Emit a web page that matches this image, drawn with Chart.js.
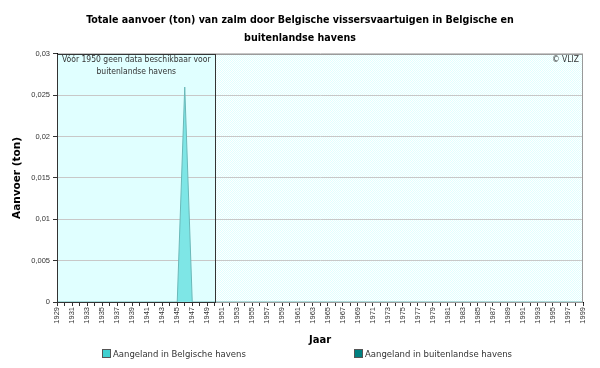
<!DOCTYPE html>
<html>
<head>
<meta charset="utf-8">
<script src="https://cdn.jsdelivr.net/npm/chart.js@4"></script>
<style>
  body { margin: 0; background: #fff; }
  #wrap { position: relative; width: 600px; height: 368px; }
  .leg { position: absolute; top: 349px; font: 8.5px "DejaVu Sans", sans-serif; color: #333; white-space: nowrap; }
  .leg span { display: inline-block; width: 7px; height: 7px; border: 1px solid #555; margin-right: 2px; vertical-align: -1px; }
</style>
</head>
<body>
<div id="wrap">
  <canvas id="MyChart" width="600" height="368"></canvas>
  <div class="leg" style="left:102px"><span style="background:#40D0D0"></span>Aangeland in Belgische havens</div>
  <div class="leg" style="left:354px"><span style="background:#008080"></span>Aangeland in buitenlandse havens</div>
</div>
<script>
// years 1929 - 1999
let years = [];
for (let y = 1929; y <= 1999; y++) years.push(String(y));

// only 1946 has a landing (Belgian ports), rest is zero
let belgisch = years.map((y) => (y === '1946' ? 0.026 : 0));
let buitenlands = years.map(() => 0);

let yTicks = [0, 0.005, 0.01, 0.015, 0.02, 0.025, 0.03];
let noDataUntil = '1950';

// checkerboard like the original dither
function ditherPattern(ctx) {
  let c = document.createElement('canvas');
  c.width = 2; c.height = 2;
  let p = c.getContext('2d');
  p.fillStyle = '#ffffff';
  p.fillRect(0, 0, 2, 2);
  p.fillStyle = '#E0FFFF';
  p.fillRect(0, 0, 1, 1);
  p.fillRect(1, 1, 1, 1);
  return ctx.createPattern(c, 'repeat');
}

const backgroundBox = {
  id: 'backgroundBox',
  beforeDraw(chart) {
    const {ctx, chartArea: a, scales: {x}} = chart;
    ctx.save();
    ctx.fillStyle = ditherPattern(ctx);
    ctx.fillRect(a.left, a.top, a.right - a.left, a.bottom - a.top);
    let xb = Math.round(x.getPixelForValue(years.indexOf(noDataUntil))) + 0.5;
    ctx.fillStyle = '#E0FFFF';
    ctx.fillRect(a.left, a.top, xb - a.left, a.bottom - a.top);
    ctx.restore();
  },
  afterDatasetsDraw(chart) {
    const {ctx, chartArea: a, scales: {x}} = chart;
    let xb = Math.round(x.getPixelForValue(years.indexOf(noDataUntil))) + 0.5;
    ctx.save();
    ctx.strokeStyle = '#999';
    ctx.lineWidth = 1;
    ctx.strokeRect(a.left + 0.5, a.top + 0.5, a.right - a.left - 1, a.bottom - a.top);
    ctx.strokeStyle = '#333';
    ctx.strokeRect(a.left + 0.5, a.top + 0.5, xb - a.left - 0.5, a.bottom - a.top);
    ctx.fillStyle = '#333';
    ctx.font = '8.5px "DejaVu Sans Condensed", "DejaVu Sans", sans-serif';
    ctx.textAlign = 'center';
    ctx.textBaseline = 'middle';
    let cx = (a.left + xb) / 2;
    ctx.fillText('Vóór 1950 geen data beschikbaar voor', cx, a.top + 6);
    ctx.fillText('buitenlandse havens', cx, a.top + 18);
    ctx.textAlign = 'right';
    ctx.fillText('© VLIZ', a.right - 4, a.top + 6);
    ctx.restore();
  }
};

var ctx = document.getElementById('MyChart').getContext('2d');
new Chart(ctx, {
  type: 'line',
  data: {
    labels: years,
    datasets: [
      {
        label: 'Aangeland in Belgische havens',
        data: belgisch,
        fill: 'origin',
        backgroundColor: '#7EE6E6',
        borderColor: '#6AB8B8',
        borderWidth: 1,
        pointRadius: 0,
        tension: 0
      },
      {
        label: 'Aangeland in buitenlandse havens',
        data: buitenlands,
        fill: '-1',
        backgroundColor: '#008080',
        borderColor: 'rgba(0,0,0,0)',
        borderWidth: 0,
        pointRadius: 0
      }
    ]
  },
  options: {
    responsive: false,
    animation: false,
    layout: { padding: { left: 0, right: 0, top: 0, bottom: 22 } },
    plugins: {
      legend: { display: false },
      tooltip: { enabled: false },
      title: {
        display: true,
        text: ['Totale aanvoer (ton) van zalm door Belgische vissersvaartuigen in Belgische en', 'buitenlandse havens'],
        color: '#000',
        font: { family: '"DejaVu Sans Condensed", "DejaVu Sans", sans-serif', size: 10.6, weight: 'bold', lineHeight: 1.65 },
        padding: { top: 12, bottom: 7 }
      }
    },
    scales: {
      x: {
        stacked: true,
        offset: false,
        afterFit(scale) { scale.height = 44; },
        grid: { drawOnChartArea: false, drawTicks: true, tickLength: 4, color: '#333' },
        border: { color: '#000' },
        ticks: {
          autoSkip: false,
          minRotation: 90,
          maxRotation: 90,
          padding: 1,
          color: '#333',
          font: { family: '"Liberation Sans", sans-serif', size: 7.5 },
          callback: function (v, i) { return i % 2 === 0 ? years[i] : ''; }
        },
        title: {
          display: true,
          text: 'Jaar',
          color: '#000',
          font: { family: '"DejaVu Sans", sans-serif', size: 10, weight: 'bold' },
          padding: { top: 0, bottom: 0 }
        }
      },
      y: {
        stacked: true,
        min: 0,
        max: 0.03,
        afterFit(scale) { scale.width = 57; },
        afterBuildTicks(scale) { scale.ticks = yTicks.map((v) => ({ value: v })); },
        grid: { color: '#C8C8C8', tickLength: 4, tickColor: '#333' },
        border: { color: '#000' },
        ticks: {
          padding: 3,
          color: '#333',
          font: { family: '"Liberation Sans", sans-serif', size: 7.5 },
          callback: function (v) { return String(Number(v.toFixed(3))).replace('.', ','); }
        },
        title: {
          display: true,
          text: 'Aanvoer (ton)',
          color: '#000',
          font: { family: '"DejaVu Sans", sans-serif', size: 10.5, weight: 'bold' },
          padding: { top: 11, bottom: 0 }
        }
      },
      // empty right axis, only keeps a margin at the right so the title stays centred on the page
      yRight: {
        position: 'right',
        min: 0,
        max: 0.03,
        afterFit(scale) { scale.width = 17; },
        grid: { display: false },
        border: { display: false },
        ticks: { display: false }
      }
    }
  },
  plugins: [backgroundBox]
});
</script>
</body>
</html>
